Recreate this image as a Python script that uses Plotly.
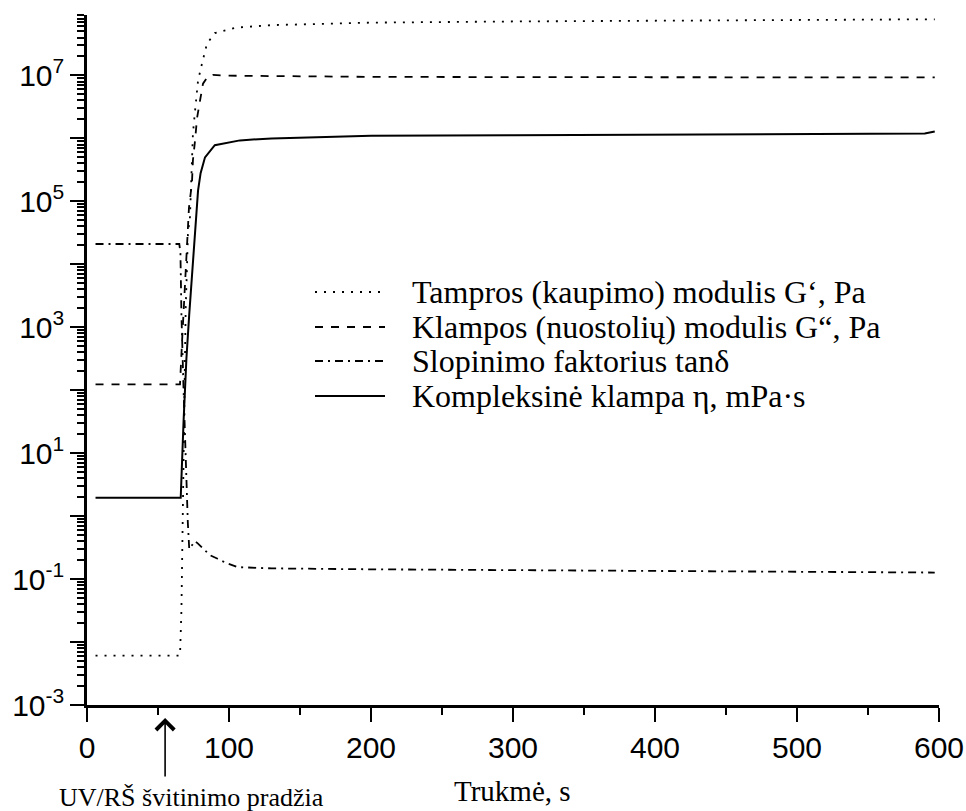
import plotly.graph_objects as go

# ---- data (time in s) ----
t_gp = [6, 20, 40, 60, 65.5, 66.5, 67.5, 68.5, 69.5, 70.4, 71.1, 72.5, 73.2, 74.6, 76.1, 78.2,
        81, 84.5, 90, 105, 130, 200, 300, 400, 500, 597]
g_storage = [6.1e-3, 6.1e-3, 6.0e-3, 6.1e-3, 6.1e-3, 3.2e-2, 1.26, 63, 2.0e3, 8.9e3, 3.1e4, 5.6e4,
             1.66e5, 1.2e6, 2.75e6, 8.3e6, 1.55e7, 3.2e7, 4.7e7, 5.75e7, 6.3e7, 6.9e7, 7.2e7,
             7.4e7, 7.6e7, 7.8e7]

t_gpp = [6, 20, 40, 60, 65.5, 67, 68.5, 70, 71.1, 71.8, 73.9, 74.6, 76.1, 77.5, 79.6, 81.7,
         85, 88.7, 100, 150, 200, 300, 400, 500, 597]
g_loss = [124, 124, 124, 124, 124, 630, 2.5e3, 1.0e4, 3.1e4, 7.9e4, 1.95e5, 4.5e5, 9.3e5,
          2.1e6, 4.0e6, 7.4e6, 9.6e6, 1.02e7, 9.9e6, 9.6e6, 9.5e6, 9.4e6, 9.4e6, 9.35e6, 9.3e6]

t_tan = [6, 20, 40, 60, 65, 65.8, 66.5, 68, 69.5, 71, 72, 74, 76, 78, 82, 86.6, 92, 98.6,
         106, 130, 200, 300, 400, 500, 597]
tan_delta = [2.1e4, 2.1e4, 2.1e4, 2.1e4, 2.1e4, 1.5e4, 1.6e3, 100, 6.3, 0.79, 0.30, 0.35,
             0.40, 0.37, 0.30, 0.24, 0.21, 0.178, 0.155, 0.148, 0.143, 0.138, 0.134, 0.13, 0.127]

t_eta = [6, 20, 40, 60, 66, 68, 70, 72, 74, 76.1, 78.2, 80, 83.1, 90, 107.7, 130, 200, 300,
         400, 500, 590, 597]
eta = [1.95, 1.95, 1.92, 1.95, 1.95, 32, 316, 1.6e3, 6.3e3, 3.1e4, 1.48e5, 2.8e5, 5.0e5,
       7.8e5, 9.3e5, 1.0e6, 1.1e6, 1.12e6, 1.15e6, 1.17e6, 1.2e6, 1.29e6]

series_names = ["Tampros (kaupimo) modulis G‘, Pa",
                "Klampos (nuostolių) modulis G“, Pa",
                "Slopinimo faktorius tanδ",
                "Kompleksinė klampa η, mPa·s"]
series_dash = ["2px,7px", "8px,8px", "8px,5px,2px,5px", "solid"]

x_ticks = [0, 100, 200, 300, 400, 500, 600]
y_exps = list(range(-3, 8))
y_tickvals = [10.0 ** e for e in y_exps]
y_ticktext = [("10<sup>%d</sup>" % e) if e % 2 else "" for e in y_exps]
y_minor = [m * 10.0 ** e for e in range(-3, 8) for m in range(2, 10)]

serif = "Liberation Serif, Times New Roman, serif"
sans = "Liberation Sans, Arial, sans-serif"

fig = go.Figure()
for tx, vy, name, dash in zip([t_gp, t_gpp, t_tan, t_eta],
                              [g_storage, g_loss, tan_delta, eta],
                              series_names, series_dash):
    fig.add_trace(go.Scatter(x=tx, y=vy, mode="lines", name=name,
                             line=dict(color="black", width=1.8 if dash != "solid" else 2, dash=dash),
                             showlegend=False))

# custom legend (keys drawn in paper space, text as annotations)
leg_x0, leg_x1 = (315 - 87) / 852, (385 - 87) / 852
leg_rows = [292, 327, 361, 396]
for name, dash, row in zip(series_names, series_dash, leg_rows):
    yp = 1 - (row - 15) / 690
    fig.add_shape(type="line", xref="paper", yref="paper", x0=leg_x0, x1=leg_x1, y0=yp, y1=yp,
                  line=dict(color="black", width=1.8 if dash != "solid" else 2, dash=dash))
    fig.add_annotation(xref="paper", yref="paper", x=(410 - 87) / 852, y=yp, text=name,
                       showarrow=False, xanchor="left", yanchor="middle",
                       font=dict(family=serif, size=32, color="black"))

# arrow marking the start of UV irradiation
fig.add_annotation(xref="x", yref="paper", x=55, y=-(718 - 705) / 690, text="",
                   showarrow=True, ax=0, ay=60, arrowhead=4, arrowsize=2.2, arrowwidth=1.6,
                   arrowcolor="black")
fig.add_annotation(xref="paper", yref="paper", x=(191.5 - 87) / 852, y=-(797 - 705) / 690,
                   text="UV/RŠ švitinimo pradžia", showarrow=False, xanchor="center",
                   yanchor="middle", font=dict(family=serif, size=26, color="black"))
fig.add_annotation(xref="paper", yref="paper", x=(512 - 87) / 852, y=-(791 - 705) / 690,
                   text="Trukmė, s", showarrow=False, xanchor="center",
                   yanchor="middle", font=dict(family=serif, size=29, color="black"))

fig.update_layout(
    width=966, height=811,
    margin=dict(l=87, r=27, t=15, b=106, autoexpand=False),
    paper_bgcolor="white", plot_bgcolor="white",
    xaxis=dict(range=[0, 600], tickvals=x_ticks, ticks="outside", ticklen=14, tickwidth=2,
               tickcolor="black", showline=True, linecolor="black", linewidth=2.5,
               showgrid=False, zeroline=False, automargin=False,
               tickfont=dict(family=sans, size=30, color="black"),
               minor=dict(tickvals=[50, 150, 250, 350, 450, 550], ticks="outside", ticklen=7,
                          tickwidth=2, tickcolor="black", showgrid=False)),
    yaxis=dict(type="log", range=[-3, 7.96], tickmode="array", tickvals=y_tickvals,
               ticktext=y_ticktext, ticks="outside", ticklen=14, tickwidth=2, tickcolor="black",
               showline=True, linecolor="black", linewidth=2.5, showgrid=False, zeroline=False,
               automargin=False,
               tickfont=dict(family=sans, size=30, color="black"),
               minor=dict(tickmode="array", tickvals=y_minor, ticks="outside", ticklen=7,
                          tickwidth=2, tickcolor="black", showgrid=False)),
)

fig.write_html("out.html", config={"displayModeBar": False},
               post_script="document.body.style.margin='0';document.body.style.overflow='hidden';")
